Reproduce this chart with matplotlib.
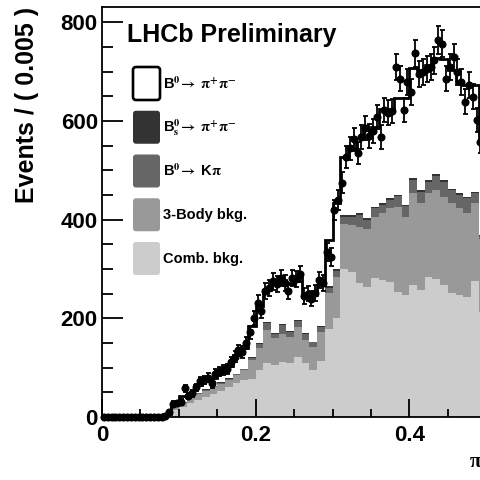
import numpy as np
import matplotlib
matplotlib.use("Agg")
import matplotlib.pyplot as plt
from matplotlib.patches import FancyBboxPatch
from matplotlib.ticker import MultipleLocator, FuncFormatter

plt.rcParams["font.family"] = ["Liberation Sans", "DejaVu Sans"]
plt.rcParams["font.weight"] = "bold"
plt.rcParams["mathtext.fontset"] = "stix"

# ---------------------------------------------------------------------------
# Fit components, 0.01 wide bins on [0, 0.5]
# ---------------------------------------------------------------------------
edges = np.linspace(0.0, 0.5, 51)

comb_bkg = [0, 0, 0, 0, 0, 0, 0, 0, 0,
            14, 21, 28, 34, 40, 47, 53, 61, 68, 76,
            78, 95, 109, 105, 112, 109, 122, 110, 95, 113,
            178, 200, 300, 294, 271, 264, 281, 278, 274, 254,
            247, 267, 257, 284, 280, 268, 251, 247, 244, 276,
            212]
three_body = [0, 0, 0, 0, 0, 0, 0, 0, 0,
              7, 8, 10, 13, 13, 13, 14, 15, 17, 19,
              37, 44, 67, 55, 56, 54, 61, 47, 47, 60,
              74, 84, 92, 95, 115, 118, 125, 135, 149, 172,
              159, 186, 176, 169, 180, 178, 182, 176, 169, 157,
              148]
bd_kpi = [0, 0, 0, 0, 0, 0, 0, 0, 0,
          2, 1, 2, 1, 2, 2, 2, 2, 2, 2,
          5, 8, 15, 8, 18, 10, 11, 12, 9, 10,
          10, 12, 14, 17, 24, 18, 17, 17, 17, 21,
          21, 28, 24, 24, 29, 31, 27, 27, 30, 20,
          6]
bs_pipi = [0, 0, 0, 0, 0, 0, 0, 0, 0,
           1, 1, 1, 1, 1, 1, 1, 1, 1, 1,
           2, 2, 2, 2, 2, 2, 2, 2, 2, 2,
           3, 3, 3, 3, 3, 3, 3, 3, 3, 3,
           3, 3, 3, 3, 3, 3, 3, 3, 3, 3,
           3]
bd_pipi = [0, 0, 0, 0, 0, 0, 0, 0, 6,
           4, 11, 7, 16, 20, 17, 24, 25, 37, 42,
           63, 76, 64, 101, 89, 95, 88, 79, 94, 83,
           93, 135, 118, 134, 152, 178, 162, 192, 182, 196,
           216, 223, 243, 233, 235, 245, 240, 226, 227, 217,
           191]

# ---------------------------------------------------------------------------
# Data, 0.005 wide bins starting at 0
# ---------------------------------------------------------------------------
data_width = 0.005
data_counts = [0, 0, 0, 0, 0, 0, 0, 0, 0, 0, 0, 0, 0, 0, 0, 0,
               3, 10, 27, 28, 30, 58, 42, 48, 60, 72,
               75, 80, 68, 88, 92, 95, 98, 112, 122, 135,
               132, 150, 172, 200, 232, 215, 255, 262, 275, 270,
               282, 272, 255, 282, 280, 290, 245, 250, 240, 252,
               278, 272, 335, 325, 420, 440, 475, 527, 545, 563,
               535, 568, 585, 570, 580, 608, 568, 622, 617, 620,
               710, 686, 622, 679, 659, 737, 696, 700, 705, 710,
               723, 764, 757, 686, 710, 730, 700, 679, 639, 673,
               649, 602, 558]

components = [comb_bkg, three_body, bd_kpi, bs_pipi, bd_pipi]
fills = ["#cccccc", "#999999", "#666666", "#333333", "white"]
legend_labels = [r"B$^{\mathbf{0}}\!\rightarrow\ \mathrm{\pi^{+}\pi^{-}}$",
                 r"B$_{\mathbf{s}}^{\mathbf{0}}\!\rightarrow\ \mathrm{\pi^{+}\pi^{-}}$",
                 r"B$^{\mathbf{0}}\!\rightarrow$ K$\mathrm{\pi}$",
                 "3-Body bkg.",
                 "Comb. bkg."]
legend_fills = ["white", "#333333", "#666666", "#999999", "#cccccc"]

W, H = 481, 480


def fx(x):
    return x / W


def fy(y):
    return 1.0 - y / H


fig = plt.figure(figsize=(W / 100, H / 100), dpi=100)
x_max = 0.55
ax = fig.add_axes([fx(102), fy(417), x_max * 768.5 / W, 410 / H])

# stacked fit components
stack = np.cumsum(np.array(components, dtype=float), axis=0)
base = np.zeros(len(edges) - 1)
for top, col in zip(stack, fills):
    ax.stairs(top, edges, baseline=base, fill=True, color=col, lw=0, zorder=1)
    base = top
ax.stairs(stack[-1], edges, baseline=None, color="black", lw=2.0, zorder=2)

# data with Poisson errors
counts = np.array(data_counts, dtype=float)
centers = data_width * (np.arange(len(counts)) + 0.5)
ax.errorbar(centers, counts, yerr=np.sqrt(counts), fmt="o", color="black",
            ms=4.8, elinewidth=1.3, capsize=1.8, capthick=1.3, zorder=3,
            clip_on=False)

ax.set_xlim(0, x_max)
ax.set_ylim(0, 831)
ax.xaxis.set_major_locator(MultipleLocator(0.2))
ax.xaxis.set_minor_locator(MultipleLocator(0.05))
ax.yaxis.set_major_locator(MultipleLocator(200))
ax.yaxis.set_minor_locator(MultipleLocator(50))
ax.xaxis.set_major_formatter(FuncFormatter(lambda v, p: f"{v:g}"))
ax.tick_params(axis="both", which="both", direction="in", width=1.3,
               labelsize=16)
ax.tick_params(axis="y", which="major", length=15, pad=3)
ax.tick_params(axis="y", which="minor", length=7.7)
ax.tick_params(axis="x", which="major", length=13, pad=6)
ax.tick_params(axis="x", which="minor", length=5.8)
for s in ax.spines.values():
    s.set_linewidth(1.3)

fig.text(fx(27), fy(7), "Events / ( 0.005 )", rotation=90, ha="center",
         va="top", fontsize=18, fontweight="bold")
fig.text(fx(127), fy(42), "LHCb Preliminary", fontsize=18,
         fontweight="bold", va="baseline")
fig.text(fx(470), fy(467), "π", fontsize=15, family="Liberation Serif",
         va="baseline")

# legend boxes
box_w, box_h = 27, 33
for i, (lab, col) in enumerate(zip(legend_labels, legend_fills)):
    cy = 83.5 + 43.75 * i
    edge = "black" if col == "white" else col
    lw = 1.9 if col == "white" else 0
    fig.patches.append(FancyBboxPatch(
        (fx(133), fy(cy + box_h / 2)), box_w / W, box_h / H,
        boxstyle="round,pad=0,rounding_size=0.006",
        transform=fig.transFigure, facecolor=col, edgecolor=edge, lw=lw))
    fig.text(fx(163), fy(cy), lab, fontsize=10.5, fontweight="bold",
             va="center")

fig.savefig("out.png", dpi=100)
